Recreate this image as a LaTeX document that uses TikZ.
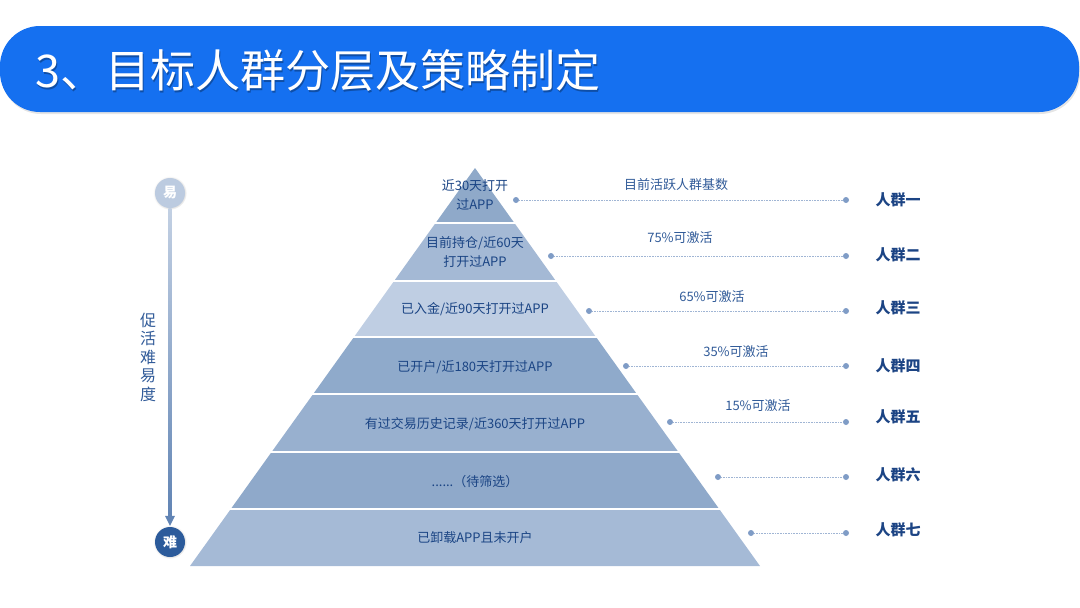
\documentclass[tikz,border=0pt]{standalone}
\usepackage{fontspec}
\setmainfont{Noto Sans CJK SC}
\usetikzlibrary{calc,shadows}
\definecolor{banner}{RGB}{21,112,240}
\definecolor{txtblue}{RGB}{26,68,132}
\definecolor{lblblue}{RGB}{28,68,132}
\definecolor{pctblue}{RGB}{48,90,152}
\definecolor{dotc}{RGB}{127,156,198}
\definecolor{linec}{RGB}{160,181,212}
\definecolor{cA}{RGB}{143,169,201}
\definecolor{cB}{RGB}{164,185,213}
\definecolor{cC}{RGB}{191,206,227}
\definecolor{cD}{RGB}{143,170,203}
\definecolor{cE}{RGB}{152,176,207}
\definecolor{cF}{RGB}{143,169,202}
\definecolor{cG}{RGB}{165,186,214}
\definecolor{easyc}{RGB}{188,203,224}
\definecolor{hardc}{RGB}{44,91,155}
\tikzset{
  layertext/.style={text=txtblue,font=\fontsize{13pt}{19pt}\selectfont,align=center,inner sep=0pt},
  grouplbl/.style={text=lblblue,font=\fontsize{15pt}{18pt}\selectfont\bfseries,inner sep=0pt},
  pct/.style={text=pctblue,font=\fontsize{13pt}{16pt}\selectfont,inner sep=0pt},
  dotnode/.style={circle,fill=dotc,minimum size=6pt,inner sep=0pt},
  dotline/.style={draw=linec,line width=0.9pt,dash pattern=on 1pt off 0.6pt},
  sep/.style={draw=white,line width=2pt},
  axiscircle/.style={circle,minimum size=30pt,inner sep=0pt,text=white,font=\fontsize{14pt}{14pt}\selectfont\bfseries},
}
\begin{document}
\begin{tikzpicture}[x=1pt,y=-1pt]
\useasboundingbox (0,0) rectangle (1080,608);
% banner
\fill[black,opacity=0.10,rounded corners=40pt] (1,28) rectangle (1080,114);
\fill[banner,rounded corners=40pt] (0,26) rectangle (1079,112);
\node[anchor=west,text=black,opacity=0.3,font=\fontsize{45pt}{45pt}\selectfont,inner sep=0pt] at (36.5,72) {3、目标人群分层及策略制定};
\node[anchor=west,text=white,font=\fontsize{45pt}{45pt}\selectfont,inner sep=0pt] (title) at (35,70) {3、目标人群分层及策略制定};
% pyramid layers
\fill[cA] (475,168) -- (514.4,223) -- (435.6,223) -- cycle;
\fill[cB] (435.6,223) -- (514.4,223) -- (555.9,281) -- (394.1,281) -- cycle;
\fill[cC] (394.1,281) -- (555.9,281) -- (596,337) -- (354,337) -- cycle;
\fill[cD] (354,337) -- (596,337) -- (636.8,394) -- (313.2,394) -- cycle;
\fill[cE] (313.2,394) -- (636.8,394) -- (678.4,452) -- (271.6,452) -- cycle;
\fill[cF] (271.6,452) -- (678.4,452) -- (719.2,509) -- (230.8,509) -- cycle;
\fill[cG] (230.8,509) -- (719.2,509) -- (760,566) -- (190,566) -- cycle;
\draw[sep] (433,223) -- (517,223);
\draw[sep] (392,281) -- (558,281);
\draw[sep] (352,337) -- (598,337);
\draw[sep] (311,394) -- (639,394);
\draw[sep] (269,452) -- (681,452);
\draw[sep] (228,509) -- (722,509);
% layer texts
\node[layertext] (t1) at (475,195) {近30天打开\\过APP};
\node[layertext] (t2) at (475,252) {目前持仓/近60天\\打开过APP};
\node[layertext] (t3) at (475,309) {已入金/近90天打开过APP};
\node[layertext] (t4) at (475,367) {已开户/近180天打开过APP};
\node[layertext] (t5) at (475,424) {有过交易历史记录/近360天打开过APP};
\node[layertext] (t6) at (475,482) {......（待筛选）};
\node[layertext] (t7) at (475,538) {已卸载APP且未开户};
% connectors
\node[dotnode] (l1) at (516,200) {};
\node[dotnode] (r1) at (846,200) {};
\node[dotnode] (l2) at (551,256) {};
\node[dotnode] (r2) at (846,256) {};
\node[dotnode] (l3) at (589,311) {};
\node[dotnode] (r3) at (846,311) {};
\node[dotnode] (l4) at (626,366) {};
\node[dotnode] (r4) at (846,366) {};
\node[dotnode] (l5) at (670,422) {};
\node[dotnode] (r5) at (846,422) {};
\node[dotnode] (l6) at (718,477) {};
\node[dotnode] (r6) at (846,477) {};
\node[dotnode] (l7) at (751,533) {};
\node[dotnode] (r7) at (846,533) {};
\foreach \i in {1,...,7} {\draw[dotline] (l\i) -- (r\i);}
% percent labels
\node[pct] (p1) at (676,185) {目前活跃人群基数};
\node[pct] (p2) at (680,238) {75\%可激活};
\node[pct] (p3) at (712,297) {65\%可激活};
\node[pct] (p4) at (736,352) {35\%可激活};
\node[pct] (p5) at (758,406) {15\%可激活};
% group labels
\node[grouplbl] (g1) at (898,200) {人群一};
\node[grouplbl] (g2) at (898,255) {人群二};
\node[grouplbl] (g3) at (898,308) {人群三};
\node[grouplbl] (g4) at (898,366) {人群四};
\node[grouplbl] (g5) at (898,417) {人群五};
\node[grouplbl] (g6) at (898,475) {人群六};
\node[grouplbl] (g7) at (898,530) {人群七};
% left axis
\node[axiscircle,fill=easyc,circular drop shadow={shadow xshift=0pt,shadow yshift=0pt,opacity=0.25,shadow scale=1.12}] (easy) at (170,193) {易};
\node[axiscircle,fill=hardc,circular drop shadow={shadow xshift=0pt,shadow yshift=0pt,opacity=0.25,shadow scale=1.12}] (hard) at (170,542) {难};
\shade[top color=easyc!90!white,bottom color=hardc!75!white] ($(easy.south)+(-1.6,0)$) rectangle ($(hard.north)+(1.6,-9)$);
\fill[hardc!75!white] ($(hard.north)+(-5,-11)$) -- ($(hard.north)+(5,-11)$) -- ($(hard.north)+(0,-1)$) -- cycle;
\node[text=pctblue,font=\fontsize{16pt}{18.5pt}\selectfont,align=center,inner sep=0pt] (axislbl) at (148,357) {促\\活\\难\\易\\度};
\end{tikzpicture}
\end{document}
